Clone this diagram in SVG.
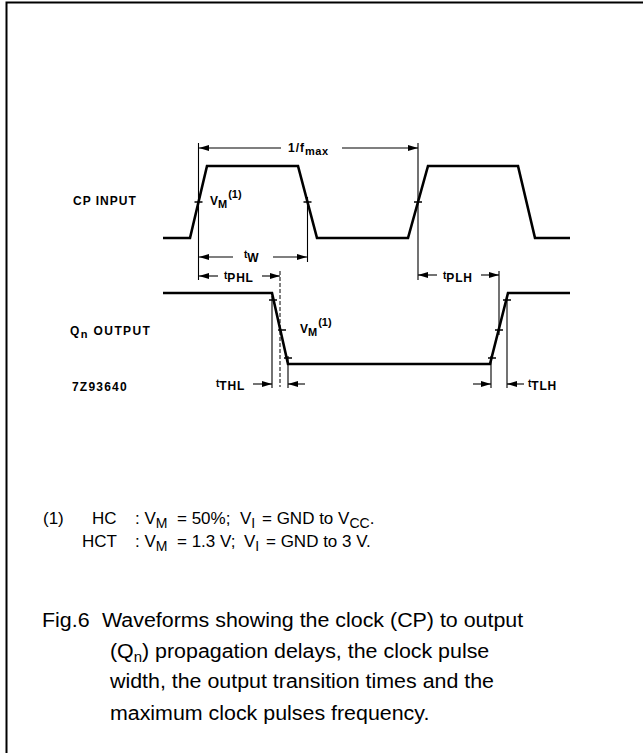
<svg xmlns="http://www.w3.org/2000/svg" width="643" height="753" viewBox="0 0 643 753">
<style>
.wave{fill:none;stroke:#000;stroke-width:2.6;stroke-linejoin:miter}
.dim{fill:none;stroke:#000;stroke-width:1.1}
.dash{fill:none;stroke:#000;stroke-width:1;stroke-dasharray:4 2}
.tick{fill:none;stroke:#000;stroke-width:1.4}
.lbl{font-family:"Liberation Sans",Arial,sans-serif;font-weight:bold;font-size:12px;fill:#000}
.sm{font-size:11px}
.tt{font-size:10px}
.note{font-family:"Liberation Sans",Arial,sans-serif;font-size:17px;fill:#000}
.ns{font-size:14px}
.cap{font-family:"Liberation Sans",Arial,sans-serif;font-size:20px;fill:#000}
</style>
<defs>
<marker id="ah" viewBox="0 0 10 6" refX="10" refY="3" markerWidth="10" markerHeight="6" markerUnits="userSpaceOnUse" orient="auto">
<path d="M0,0 L10,3 L0,6 z" fill="#000"/>
</marker>
</defs>
<rect width="643" height="753" fill="#fff"/>
<path d="M6.5,753 V2.5 H643" fill="none" stroke="#000" stroke-width="2"/>

<g id="cp-input">
<path class="wave" d="M163,238 H190 L207,166 H298 L317,238 H408 L428,166 H518 L535,238 H570"/>
<text class="lbl" x="73" y="205" letter-spacing="1">CP INPUT</text>
</g>

<g id="q-output">
<path class="wave" d="M163,293 H272 L288,364 H490 L508,293 H570"/>
<text class="lbl" x="70" y="335" letter-spacing="1.4">Q<tspan class="sm" dy="3">n</tspan><tspan dy="-3"> OUTPUT</tspan></text>
</g>

<g id="ref-code">
<text class="lbl" x="72" y="391" letter-spacing="1.2">7Z93640</text>
</g>

<g id="vm-labels">
<text class="lbl" x="210" y="205">V<tspan class="sm" dy="3">M</tspan><tspan class="sm" dy="-10" dx="1">(1)</tspan></text>
<text class="lbl" x="300" y="333">V<tspan class="sm" dy="3">M</tspan><tspan class="sm" dy="-10" dx="1">(1)</tspan></text>
</g>

<g id="connectors">
<path class="tick" d="M194.5,202 H202.5 M303.5,202 H311.5 M414,202 H422 M269,300 H277 M278,330 H286 M284,358 H292 M488,358 H496 M495,330 H503 M503,300 H511"/>
<path class="dim" d="M198.5,143 V280 M418,143 V280 M307.5,197 V262 M272,296 V388 M288,356 V388 M499,271 V335 M491,356 V388 M507,296 V388"/>
<path class="dash" d="M280,271 V387"/>
<line class="dim" x1="281" y1="148" x2="199" y2="148" marker-end="url(#ah)"/>
<line class="dim" x1="342" y1="148" x2="418" y2="148" marker-end="url(#ah)"/>
<line class="dim" x1="233" y1="257" x2="199" y2="257" marker-end="url(#ah)"/>
<line class="dim" x1="273" y1="257" x2="307" y2="257" marker-end="url(#ah)"/>
<line class="dim" x1="218" y1="276" x2="199" y2="276" marker-end="url(#ah)"/>
<line class="dim" x1="262" y1="276" x2="280" y2="276" marker-end="url(#ah)"/>
<line class="dim" x1="437" y1="275" x2="418" y2="275" marker-end="url(#ah)"/>
<line class="dim" x1="481" y1="275" x2="499" y2="275" marker-end="url(#ah)"/>
<line class="dim" x1="253" y1="384" x2="272" y2="384" marker-end="url(#ah)"/>
<line class="dim" x1="305" y1="384" x2="288" y2="384" marker-end="url(#ah)"/>
<line class="dim" x1="473" y1="384" x2="491" y2="384" marker-end="url(#ah)"/>
<line class="dim" x1="524" y1="384" x2="507" y2="384" marker-end="url(#ah)"/>
</g>

<g id="dim-labels">
<text class="lbl" x="288" y="152" letter-spacing="1">1/f<tspan class="sm" dy="3" letter-spacing="0.5">max</tspan></text>
<text class="lbl" x="244" y="258"><tspan class="tt">t</tspan><tspan dy="4">W</tspan></text>
<text class="lbl" x="224" y="279"><tspan class="tt">t</tspan><tspan dy="3" letter-spacing="0.8">PHL</tspan></text>
<text class="lbl" x="443" y="279"><tspan class="tt">t</tspan><tspan dy="3" letter-spacing="0.8">PLH</tspan></text>
<text class="lbl" x="216" y="387"><tspan class="tt">t</tspan><tspan dy="3" letter-spacing="0.8">THL</tspan></text>
<text class="lbl" x="528" y="387"><tspan class="tt">t</tspan><tspan dy="3" letter-spacing="0.8">TLH</tspan></text>
</g>

<g id="footnote">
<text class="note" x="43" y="524">(1)</text>
<text class="note" x="92" y="524">HC</text>
<text class="note" x="135" y="524">: V<tspan class="ns" dy="4">M</tspan></text>
<text class="note" x="177" y="524">= 50%;</text>
<text class="note" x="240" y="524">V<tspan class="ns" dy="4">I</tspan></text>
<text class="note" x="262" y="524">= GND to V<tspan class="ns" dy="4">CC</tspan><tspan dy="-4">.</tspan></text>
<text class="note" x="82" y="547">HCT</text>
<text class="note" x="135" y="547">: V<tspan class="ns" dy="4">M</tspan></text>
<text class="note" x="177" y="547">= 1.3 V;</text>
<text class="note" x="244" y="547">V<tspan class="ns" dy="4">I</tspan></text>
<text class="note" x="266" y="547">= GND to 3 V.</text>
</g>

<g id="caption" transform="translate(42,0) scale(1.07,1) translate(-42,0)">
<text class="cap" x="42" y="627">Fig.6</text>
<text class="cap" x="98" y="627">Waveforms showing the clock (CP) to output</text>
<text class="cap" x="105.5" y="658">(Q<tspan font-size="14" dy="4">n</tspan><tspan dy="-4">) propagation delays, the clock pulse</tspan></text>
<text class="cap" x="105.5" y="688">width, the output transition times and the</text>
<text class="cap" x="105.5" y="720">maximum clock pulses frequency.</text>
</g>
</svg>
